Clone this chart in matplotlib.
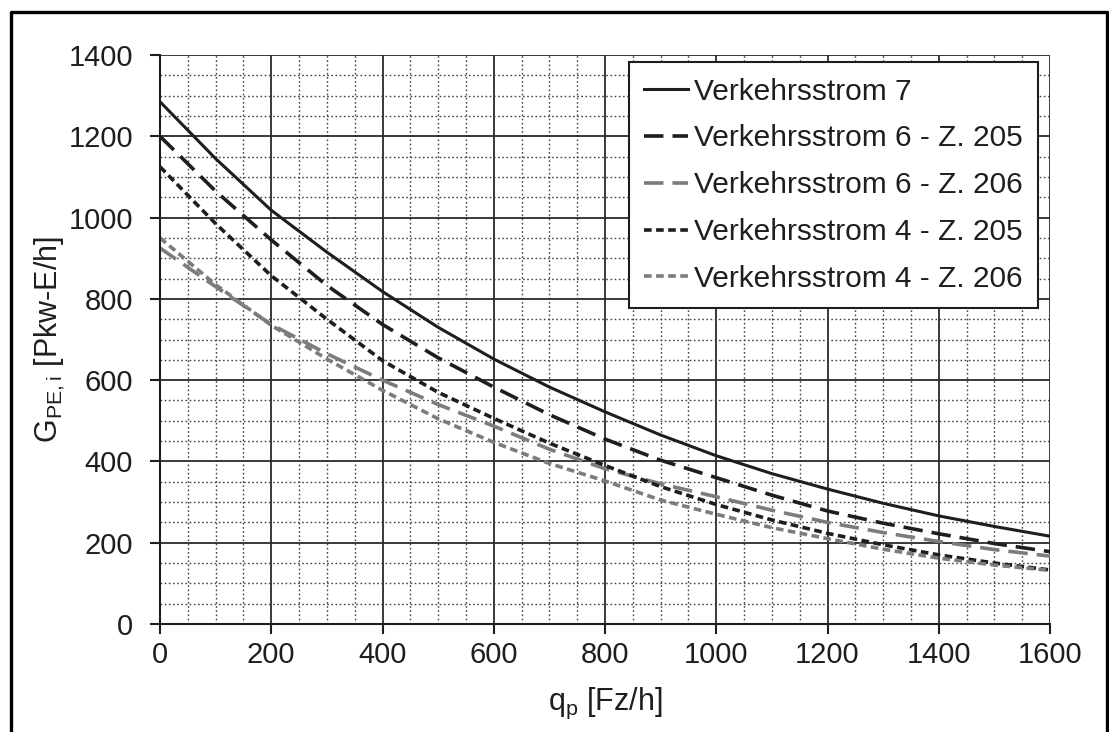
import matplotlib
matplotlib.use("Agg")
import matplotlib.pyplot as plt
from matplotlib.lines import Line2D
from matplotlib.ticker import MultipleLocator

plt.rcParams['font.family'] = ['Liberation Sans', 'DejaVu Sans']
plt.rcParams['mathtext.fontset'] = 'custom'
plt.rcParams['mathtext.rm'] = 'Liberation Sans'
plt.rcParams['mathtext.default'] = 'regular'
plt.rcParams['lines.scale_dashes'] = False

# Data
q_p = [0, 100, 200, 300, 400, 500, 600, 700, 800, 900, 1000, 1100, 1200, 1300, 1400, 1500, 1600]
vs7 = [1285, 1145, 1018, 915, 818, 730, 652, 583, 522, 465, 414, 370, 332, 297, 266, 240, 216]
vs6_205 = [1200, 1065, 945, 833, 737, 655, 583, 515, 455, 403, 360, 317, 278, 248, 222, 198, 178]
vs6_206 = [925, 830, 737, 665, 600, 540, 487, 430, 382, 345, 313, 280, 250, 225, 203, 183, 167]
vs4_205 = [1125, 985, 857, 750, 648, 570, 506, 445, 390, 338, 294, 256, 223, 195, 170, 150, 133]
vs4_206 = [950, 835, 735, 652, 575, 505, 447, 395, 352, 305, 270, 237, 210, 184, 162, 145, 132]

labels = ["Verkehrsstrom 7", "Verkehrsstrom 6 - Z. 205", "Verkehrsstrom 6 - Z. 206",
          "Verkehrsstrom 4 - Z. 205", "Verkehrsstrom 4 - Z. 206"]
x_ticks = [0, 200, 400, 600, 800, 1000, 1200, 1400, 1600]
y_ticks = [0, 200, 400, 600, 800, 1000, 1200, 1400]

W, H = 1109, 732
fig = plt.figure(figsize=(W / 100, H / 100), dpi=100)
ax = fig.add_axes([160 / W, (H - 624) / H, 890 / W, 569 / H])

black = '#1e1e1e'
grey = '#7c7c7c'

ax.plot(q_p, vs7, color=black, lw=2.2, label=labels[0])
ax.plot(q_p, vs6_205, color=black, lw=2.6, dashes=(14, 6.5), label=labels[1])
ax.plot(q_p, vs6_206, color=grey, lw=2.6, dashes=(14, 6.5), label=labels[2])
ax.plot(q_p, vs4_205, color=black, lw=2.6, dashes=(5.5, 3.2), label=labels[3])
ax.plot(q_p, vs4_206, color=grey, lw=2.6, dashes=(5.5, 3.2), label=labels[4])

ax.set_xlim(0, 1600)
ax.set_ylim(0, 1400)
ax.set_xticks(x_ticks)
ax.set_yticks(y_ticks)
ax.xaxis.set_minor_locator(MultipleLocator(50))
ax.yaxis.set_minor_locator(MultipleLocator(50))
ax.grid(which='major', color='#2a2a2a', lw=1.3, ls='-')
ax.grid(which='minor', color='#444444', lw=1.0, ls=(0, (1.2, 1.8)))
ax.set_axisbelow(True)

for s in ['top', 'right']:
    ax.spines[s].set_visible(False)
for s in ['left', 'bottom']:
    ax.spines[s].set_color(black)
    ax.spines[s].set_linewidth(1.5)

ax.tick_params(which='major', direction='out', length=7.5, width=1.5, color=black,
               labelsize=21, labelcolor=black)
ax.tick_params(axis='y', which='major', pad=12)
ax.tick_params(axis='x', which='major', pad=5)
ax.tick_params(which='minor', length=0)

ax.set_xlabel("q$_p$ [Fz/h]", fontsize=22, color=black)
ax.set_ylabel("G$_{PE,i}$ [Pkw-E/h]", fontsize=22, color=black)
ax.xaxis.set_label_coords((605 - 160) / 890, (624 - 686) / 569)
ax.yaxis.set_label_coords((50 - 160) / 890, (624 - 339) / 569)
ax.yaxis.label.set_va('center')

leg = ax.legend(loc='upper right', bbox_to_anchor=((1038 - 160) / 890, (624 - 62) / 569),
                borderaxespad=0, fontsize=21.5, frameon=True, fancybox=False,
                handlelength=1.45, handletextpad=0.2, labelspacing=0.63,
                borderpad=0.52, framealpha=1)
leg.get_frame().set_edgecolor(black)
leg.get_frame().set_linewidth(1.5)
for t in leg.get_texts():
    t.set_color(black)

# outer frame
fx0, fx1 = 11 / W, 1107 / W
fy1 = 1 - 12 / H
fig.add_artist(Line2D([fx0, fx0, fx1, fx1], [-0.02, fy1, fy1, -0.02],
                      transform=fig.transFigure, color='black', lw=2.4))

fig.savefig("out.png", dpi=100)
